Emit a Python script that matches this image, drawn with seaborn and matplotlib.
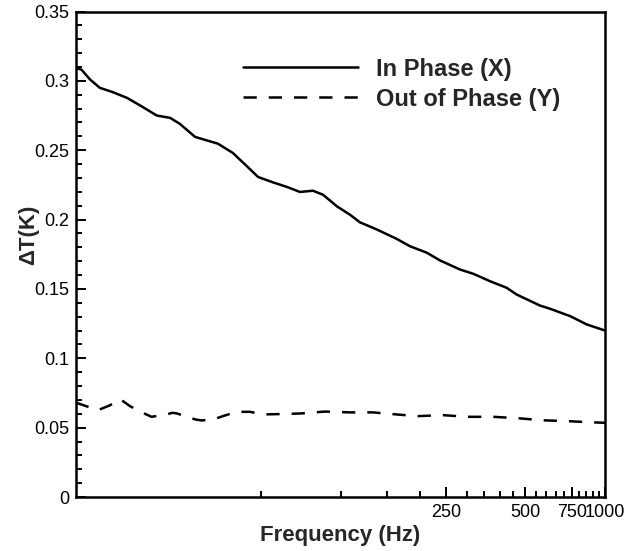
import matplotlib
matplotlib.use("Agg")
import matplotlib.pyplot as plt
import matplotlib.ticker as mticker
import seaborn as sns

# in-phase (X) component
freq_in = [10, 10.5, 11.3, 12.3, 13.8, 15.6, 17.5, 20.2, 22.7, 24.7, 28.2, 31.2,
           34.4, 39.2, 44.3, 48.8, 55.6, 62.8, 70.3, 78.7, 85.9, 97, 108.6, 118.5,
           137, 163, 183, 212, 238, 283, 318, 367, 425, 463, 568, 620, 738, 853, 1000]
dT_in = [0.3094, 0.308, 0.301, 0.295, 0.2918, 0.2877, 0.2822, 0.275, 0.2733, 0.269,
         0.2596, 0.2571, 0.2547, 0.248, 0.2384, 0.2307, 0.2268, 0.2235, 0.2199, 0.2208,
         0.2179, 0.2095, 0.2035, 0.198, 0.1929, 0.1861, 0.1808, 0.1761, 0.1705, 0.164,
         0.1609, 0.1556, 0.1508, 0.146, 0.138, 0.1357, 0.1304, 0.1244, 0.120]

# out-of-phase (Y) component
freq_out = [10, 12.1, 13.4, 14.7, 16.0, 17.7, 19.3, 22.0, 23.1, 24.0, 27.0, 28.4,
            29.9, 33.0, 36.6, 40.5, 45.5, 50.9, 56.5, 70.3, 87.4, 108.6, 132.7, 168,
            196, 244, 303, 378, 469, 578, 718, 901, 1000]
dT_out = [0.068, 0.0626, 0.066, 0.0705, 0.0655, 0.0611, 0.0578, 0.0595, 0.0607, 0.0603,
          0.0571, 0.0558, 0.0552, 0.0559, 0.0588, 0.0614, 0.0614, 0.0595, 0.0597, 0.0602,
          0.0616, 0.061, 0.061, 0.0593, 0.0583, 0.059, 0.0578, 0.0578, 0.0568, 0.0553,
          0.0547, 0.0538, 0.0535]

x_major = [250, 500, 750, 1000]
x_minor = list(range(50, 1001, 50))
y_major = [0, 0.05, 0.1, 0.15, 0.2, 0.25, 0.3, 0.35]

sns.set_style("white")
plt.rcParams["font.family"] = ["Liberation Sans", "DejaVu Sans"]

fig = plt.figure(figsize=(6.26, 5.51), dpi=100)
ax = fig.add_axes([76 / 626, 54 / 551, 529 / 626, 485.5 / 551])

sns.lineplot(x=freq_in, y=dT_in, ax=ax, color="black", lw=1.8, label="In Phase (X)")
sns.lineplot(x=freq_out, y=dT_out, ax=ax, color="black", lw=1.8,
             linestyle=(0, (5.3, 4.8)), label="Out of Phase (Y)")

ax.set_xscale("log")
ax.set_xlim(10, 1000)
ax.set_ylim(0, 0.35)

ax.xaxis.set_major_locator(mticker.FixedLocator(x_major))
ax.xaxis.set_minor_locator(mticker.FixedLocator([v for v in x_minor if v not in x_major]))
ax.xaxis.set_major_formatter(mticker.FuncFormatter(lambda v, p: f"{v:g}"))
ax.xaxis.set_minor_formatter(mticker.NullFormatter())
ax.yaxis.set_major_locator(mticker.FixedLocator(y_major))
ax.yaxis.set_minor_locator(mticker.MultipleLocator(0.01))
ax.yaxis.set_major_formatter(mticker.FuncFormatter(lambda v, p: f"{v:g}"))

ax.tick_params(which="both", direction="in", left=True, bottom=True,
               top=False, right=False, width=1.4, colors="black", labelsize=13)
ax.tick_params(which="major", length=7.5, pad=5)
ax.tick_params(which="minor", length=4.5)
for s in ax.spines.values():
    s.set_linewidth(1.8)
    s.set_color("black")

ax.set_xlabel("Frequency (Hz)", fontsize=16, fontweight="bold", labelpad=3)
ax.set_ylabel("ΔT(K)", fontsize=16, fontweight="bold")
ax.yaxis.set_label_coords(-0.07, 0.54)

ax.legend(loc="upper left", bbox_to_anchor=((243 - 76) / 529, 0.905),
          frameon=False, handlelength=4.85, handletextpad=0.8,
          labelspacing=0.3, borderpad=0, borderaxespad=0,
          prop={"weight": "bold", "size": 17})

fig.savefig("out.png", dpi=100)
